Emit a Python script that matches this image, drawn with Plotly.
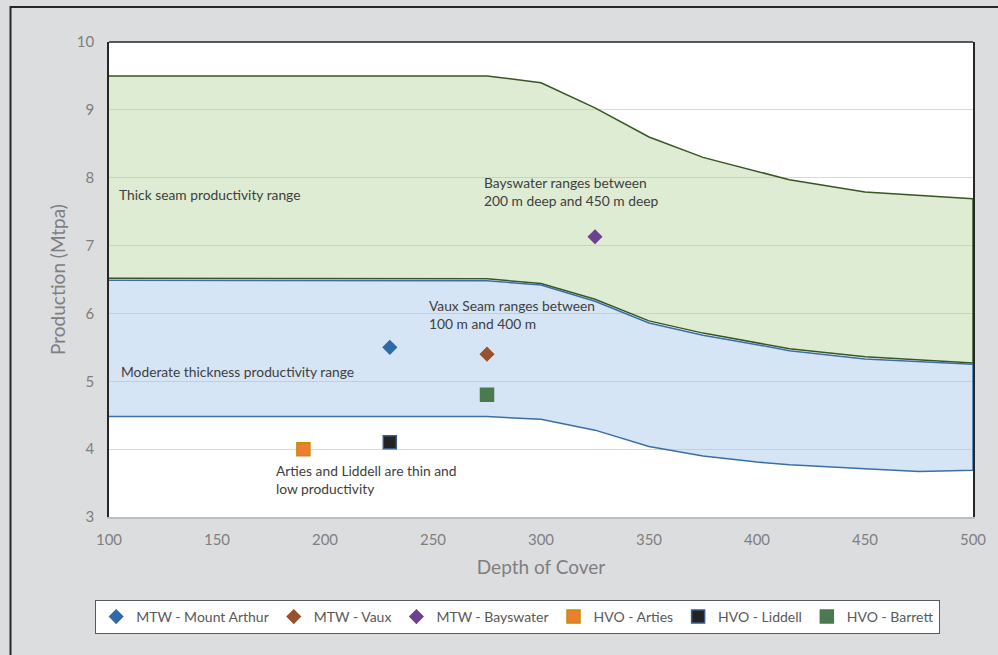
import plotly.graph_objects as go

# Depth of cover (m) for the productivity envelopes
depth = [100, 275, 300, 325, 350, 375, 415, 450, 500]

# Thick seam envelope (Mtpa)
thick_upper = [9.50, 9.50, 9.40, 9.03, 8.60, 8.30, 7.97, 7.79, 7.69]
thick_lower = [6.52, 6.51, 6.44, 6.21, 5.89, 5.71, 5.48, 5.36, 5.27]

# Moderate thickness envelope (Mtpa)
mod_depth = [100, 275, 300, 325, 350, 375, 400, 415, 450, 475, 500]
mod_upper = [6.49, 6.48, 6.42, 6.18, 5.86, 5.68, 5.54, 5.45, 5.33, 5.29, 5.25]
mod_lower = [4.48, 4.48, 4.44, 4.28, 4.04, 3.90, 3.81, 3.77, 3.71, 3.67, 3.69]

# Individual seams
seam_names = ["MTW - Mount Arthur", "MTW - Vaux", "MTW - Bayswater",
              "HVO - Arties", "HVO - Liddell", "HVO - Barrett"]
seam_depth = [230, 275, 325, 190, 230, 275]
seam_prod = [5.50, 5.40, 7.13, 4.00, 4.10, 4.80]
seam_symbol = ["diamond", "diamond", "diamond", "square", "square", "square"]
seam_color = ["#2E6AA8", "#97512C", "#6E4190", "#ED7D31", "#222222", "#4A7A4D"]
seam_edge = ["#2E6AA8", "#97512C", "#6E4190", "#BF9000", "#3A5A8C", "#4A7A4D"]
seam_size = [10, 10, 10, 13, 13, 13]

FONT = "Lato, 'Open Sans', sans-serif"

fig = go.Figure()

# Thick seam band
fig.add_trace(go.Scatter(
    x=depth + depth[::-1],
    y=thick_upper + thick_lower[::-1],
    fill="toself", fillcolor="rgba(169,208,142,0.40)",
    line=dict(color="#375623", width=1.5),
    mode="lines", showlegend=False, hoverinfo="skip"))

# Moderate thickness band
fig.add_trace(go.Scatter(
    x=mod_depth + mod_depth[::-1],
    y=mod_upper + mod_lower[::-1],
    fill="toself", fillcolor="rgba(155,194,230,0.42)",
    line=dict(color="#3C6EA6", width=1.5),
    mode="lines", showlegend=False, hoverinfo="skip"))

for name, xv, yv, sym, col, edge, sz in zip(seam_names, seam_depth, seam_prod,
                                             seam_symbol, seam_color, seam_edge, seam_size):
    fig.add_trace(go.Scatter(
        x=[xv], y=[yv], mode="markers", name=name,
        marker=dict(symbol=sym, size=sz, color=col,
                    line=dict(color=edge, width=1.5))))

note_font = dict(family=FONT, size=13.8, color="#404040")
notes = [
    (103.7, 7.76, "Thick seam productivity range"),
    (272.5, 7.80, "Bayswater ranges between<br>200 m deep and 450 m deep"),
    (247.2, 5.98, "Vaux Seam ranges between<br>100 m and 400 m"),
    (104.6, 5.14, "Moderate thickness productivity range"),
    (176.6, 3.56, "Arties and Liddell are thin and<br>low productivity"),
]
for nx, ny, txt in notes:
    fig.add_annotation(x=nx, y=ny, text=txt, showarrow=False, xanchor="left",
                       yanchor="middle", align="left", font=note_font)

# Top frame of the plot area and outer chart border
fig.add_shape(type="line", xref="paper", yref="paper", x0=0, x1=1, y0=1, y1=1,
              line=dict(color="#262626", width=1.5))
fig.add_shape(type="rect", xref="paper", yref="paper",
              x0=-0.1140, x1=1.045, y0=-0.31, y1=1.0737,
              line=dict(color="#262626", width=2), layer="below")

fig.update_layout(
    width=998, height=655,
    margin=dict(l=109, r=20, t=42, b=138),
    paper_bgcolor="#DCDDDF", plot_bgcolor="#FFFFFF",
    font=dict(family=FONT, color="#7F7F7F"),
    legend=dict(orientation="h", x=0.473, xanchor="center", y=-0.2105, yanchor="middle",
                bgcolor="#FFFFFF", bordercolor="#595959", borderwidth=1,
                font=dict(family=FONT, size=14, color="#595959"),
                itemwidth=30, tracegroupgap=0),
    xaxis=dict(range=[100, 500], dtick=50, showgrid=False, zeroline=False,
               showline=True, linecolor="#BFBFBF", linewidth=2,
               tickfont=dict(family=FONT, size=15, color="#7F7F7F"),
               ticklabelstandoff=8,
               title=dict(text="Depth of Cover", standoff=14,
                          font=dict(family=FONT, size=19, color="#7F7F7F"))),
    yaxis=dict(range=[3, 10], dtick=1, showgrid=True, gridcolor="#D9D9D9", gridwidth=1,
               zeroline=False, showline=True, linecolor="#262626", linewidth=1.5,
               mirror=True,
               tickfont=dict(family=FONT, size=15, color="#7F7F7F"),
               ticklabelstandoff=10,
               title=dict(text="Production (Mtpa)", standoff=6,
                          font=dict(family=FONT, size=19, color="#7F7F7F"))),
)

fig.write_html("out.html")
